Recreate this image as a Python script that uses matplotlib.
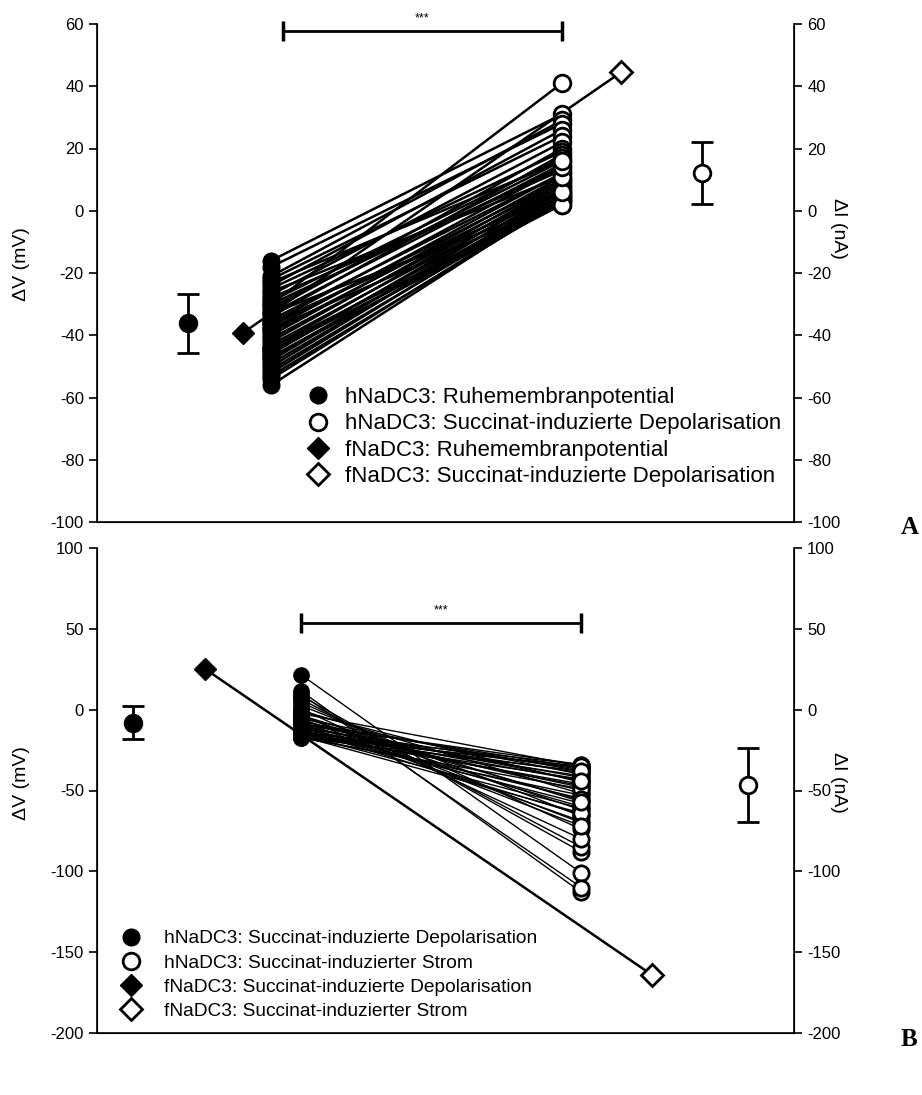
import matplotlib

matplotlib.use("Agg")
import matplotlib.pyplot as plt
from matplotlib.lines import Line2D

plt.rcParams["font.family"] = ["Liberation Sans", "DejaVu Sans"]
plt.rcParams["axes.unicode_minus"] = False

# Panel A: resting potential vs. succinate-induced depolarisation (mV)
hna_rest = [-30, -16, -21, -18, -24, -22, -27, -32, -25, -34, -29, -31, -33, -36, -28,
            -38, -35, -40, -37, -42, -39, -44, -41, -46, -43, -48, -45, -50, -47, -52,
            -49, -54, -51, -56, -53, -38, -44, -33, -45, -47, -36, -26, -30, -23]
hna_depol = [41, 31, 29, 28, 26, 24, 22, 20, 19, 18, 17, 16, 15, 14, 13, 12, 12, 11, 10,
             10, 9, 9, 8, 8, 7, 7, 6, 6, 5, 5, 5, 4, 4, 4, 3, 3, 3, 3, 2, 2, 6, 11, 14, 16]
hna_rest_mean, hna_rest_sd = -36.2, 9.6
hna_depol_mean, hna_depol_sd = 12.2, 10.0
fna_rest, fna_depol = -39.3, 44.5

# Panel B: succinate-induced depolarisation vs. succinate-induced current
hnb_depol = [21.5, 11.5, 9.5, 8.5, 6.5, 4.5, 2.5, 0.5, -0.5, -1.5, -2.5, -3.5, -4.5, -5.5,
             -6.5, -7.5, -7.5, -8.5, -9.5, -9.5, -10.5, -10.5, -11.5, -11.5, -12.5, -12.5,
             -13.5, -13.5, -14.5, -14.5, -14.5, -15.5, -15.5, -15.5, -16.5, -16.5, -16.5,
             -16.5, -17.5, -17.5, -13.5, -8.5, -5.5, -3.5]
hnb_curr = [-101, -113, -110, -88, -85, -74, -66, -80, -52, -45, -35, -70, -62, -40, -56,
            -38, -69, -36, -50, -34, -60, -42, -48, -37, -65, -44, -58, -39, -34, -47, -41,
            -61, -46, -36, -53, -43, -64, -35, -49, -38, -55, -44, -72, -57]
hnb_depol_mean, hnb_depol_sd = -8.0, 10.0
hnb_curr_mean, hnb_curr_sd = -46.6, 23.0
fnb_depol, fnb_curr = 25.2, -164.0

legend_a = ["hNaDC3: Ruhemembranpotential",
            "hNaDC3: Succinat-induzierte Depolarisation",
            "fNaDC3: Ruhemembranpotential",
            "fNaDC3: Succinat-induzierte Depolarisation"]
legend_b = ["hNaDC3: Succinat-induzierte Depolarisation",
            "hNaDC3: Succinat-induzierter Strom",
            "fNaDC3: Succinat-induzierte Depolarisation",
            "fNaDC3: Succinat-induzierter Strom"]

W, H = 922, 1095
fig = plt.figure(figsize=(W / 100, H / 100), dpi=100)


def px_axes(x0, y0, x1, y1):
    return fig.add_axes([x0 / W, 1 - y1 / H, (x1 - x0) / W, (y1 - y0) / H])


def style(ax, ylim, ticks):
    ax.set_xlim(0, 10)
    ax.set_ylim(*ylim)
    ax.set_yticks(ticks)
    ax.set_xticks([])
    ax.spines["top"].set_visible(False)
    for s in ("left", "right", "bottom"):
        ax.spines[s].set_linewidth(1.2)
    ax.tick_params(axis="y", direction="out", length=6, width=1.2, labelsize=12)
    tw = ax.twinx()
    tw.set_ylim(*ylim)
    tw.set_yticks(ticks)
    tw.spines["top"].set_visible(False)
    tw.tick_params(axis="y", direction="out", length=6, width=1.2, labelsize=12)
    return tw


def ylabels(y_left, y_right):
    fig.text(22 / W, 1 - y_left / H, "\u0394V (mV)", fontsize=14, rotation=90,
             ha="center", va="center")
    fig.text(838 / W, 1 - y_right / H, "\u0394I (nA)", fontsize=14, rotation=270,
             ha="center", va="center")


def paired(ax, x0, x1, left, right, lw, ms):
    for a, b in zip(left, right):
        ax.plot([x0, x1], [a, b], color="black", lw=lw, zorder=2)
    ax.plot([x0] * len(left), left, "o", ms=ms, mfc="black", mec="black", zorder=3)
    ax.plot([x1] * len(right), right, "o", ms=ms, mfc="white", mec="black", mew=2, zorder=4)


def mean_bar(ax, x, m, sd, filled, ms):
    ax.errorbar([x], [m], yerr=[sd], fmt="o", ms=ms, color="black",
                mfc="black" if filled else "white", mec="black", mew=2,
                elinewidth=2, capsize=8, capthick=2, zorder=4)


def sig_bar(ax, x0, x1, y):
    ax.plot([x0, x1], [y, y], color="black", lw=2, marker="|", ms=15, mew=2.5,
            clip_on=False, zorder=5)
    ax.annotate("***", xy=((x0 + x1) / 2, y), xytext=(0, 5), textcoords="offset points",
                ha="center", va="bottom", fontsize=9, annotation_clip=False)


def legend(ax, labels, anchor, size, pad, spacing):
    handles = [
        Line2D([], [], ls="none", marker="o", ms=12, mfc="black", mec="black"),
        Line2D([], [], ls="none", marker="o", ms=12, mfc="white", mec="black", mew=2),
        Line2D([], [], ls="none", marker="D", ms=11, mfc="black", mec="black"),
        Line2D([], [], ls="none", marker="D", ms=11, mfc="white", mec="black", mew=2),
    ]
    ax.legend(handles, labels, loc="upper left", bbox_to_anchor=anchor,
              bbox_transform=fig.transFigure, frameon=False, fontsize=size,
              handletextpad=pad, labelspacing=spacing, borderpad=0,
              borderaxespad=0, handlelength=1.2)


# ---- panel A
axA = px_axes(97, 24, 794, 522)
style(axA, (-100, 60), range(-100, 61, 20))
ylabels(264, 228)
paired(axA, 2.50, 6.67, hna_rest, hna_depol, lw=1.8, ms=12)
axA.plot([2.09, 7.52], [fna_rest, fna_depol], color="black", lw=1.8, zorder=2)
axA.plot([2.09], [fna_rest], "D", ms=11, mfc="black", mec="black", zorder=4)
axA.plot([7.52], [fna_depol], "D", ms=11, mfc="white", mec="black", mew=2, zorder=4)
mean_bar(axA, 1.31, hna_rest_mean, hna_rest_sd, True, 12)
mean_bar(axA, 8.68, hna_depol_mean, hna_depol_sd, False, 12)
sig_bar(axA, 2.67, 6.67, 57.7)
legend(axA, legend_a, (305 / W, 1 - 387 / H), 16, 0.6, 0.24)
fig.text(901 / W, 1 - 527 / H, "A", fontsize=18, fontweight="bold",
         family="Liberation Serif", va="center")

# ---- panel B
axB = px_axes(97, 548, 794, 1033)
style(axB, (-200, 100), range(-200, 101, 50))
ylabels(783, 782)
paired(axB, 2.93, 6.95, hnb_depol, hnb_curr, lw=1.0, ms=11)
axB.plot([1.55, 7.96], [fnb_depol, fnb_curr], color="black", lw=1.8, zorder=2)
axB.plot([1.55], [fnb_depol], "D", ms=11, mfc="black", mec="black", zorder=4)
axB.plot([7.96], [fnb_curr], "D", ms=11, mfc="white", mec="black", mew=2, zorder=4)
mean_bar(axB, 0.52, hnb_depol_mean, hnb_depol_sd, True, 12)
mean_bar(axB, 9.34, hnb_curr_mean, hnb_curr_sd, False, 12)
sig_bar(axB, 2.93, 6.95, 53.6)
legend(axB, legend_b, (119 / W, 1 - 930 / H), 13.8, 1.17, 0.35)
fig.text(901 / W, 1 - 1040 / H, "B", fontsize=18, fontweight="bold",
         family="Liberation Serif", va="center")

fig.savefig("out.png", dpi=100)
